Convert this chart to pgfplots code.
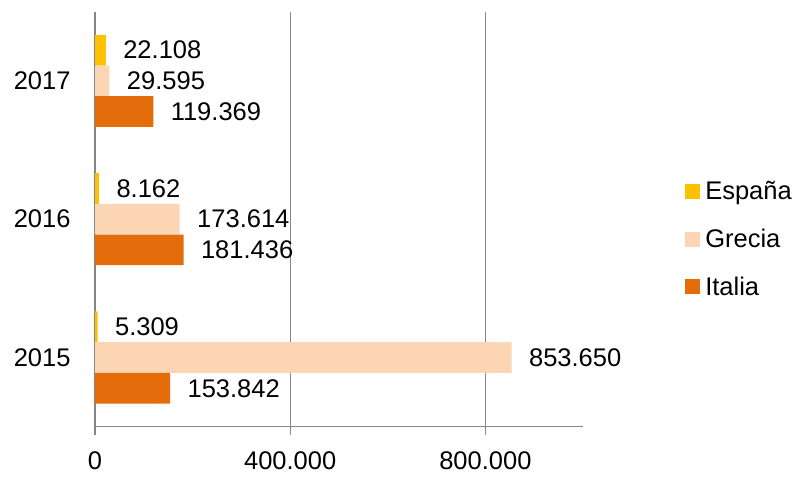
\documentclass[border=0pt]{standalone}
\usepackage{fontspec}
\setmainfont{Liberation Sans}
\usepackage{pgfplots}
\pgfplotsset{compat=1.18}
\definecolor{espana}{HTML}{FFC000}
\definecolor{grecia}{HTML}{FCD5B5}
\definecolor{italia}{HTML}{E46C0A}
\definecolor{axgray}{HTML}{868686}
\newcommand{\bigfont}{\fontsize{25.5bp}{30bp}\selectfont}
\pgfplotsset{mylegend/.style={legend image code/.code={\fill[##1] (0bp,-7.5bp) rectangle (15bp,7.5bp); \path (18bp,0bp);}}}
\begin{document}
\begin{tikzpicture}
\path[use as bounding box] (0,0) rectangle (792bp,477bp);
\begin{axis}[
  at={(95bp,50.3bp)}, anchor=south west,
  scale only axis, width=488bp, height=415bp,
  xbar, bar width=30.7bp,
  xmin=0, xmax=1000000, ymin=-0.5, ymax=2.5,
  axis lines*=left,
  xtick={0,400000,800000},
  scaled x ticks=false,
  ytick={0,1,2}, yticklabels={2015,2016,2017},
  minor ytick={-0.5,0.5,1.5,2.5},
  tick align=outside, major tick length=8bp, minor tick length=8bp,
  ytick style={draw=none},
  xtick style={axgray, line width=1.3bp},
  every minor tick/.append style={axgray, line width=1.3bp},
  xmajorgrids,
  grid style={axgray, line width=1.3bp},
  axis line style={axgray, line width=1.3bp},
  tick label style={font=\bigfont, black},
  xticklabel style={yshift=-13bp},
  yticklabel style={xshift=-13bp},
  /pgf/number format/.cd, 1000 sep={.}, fixed, precision=0, assume math mode=true,
  /pgfplots/.cd,
  nodes near coords,
  nodes near coords style={font=\bigfont, text=black, xshift=14bp},
  clip=false,
  legend cell align=left,
  legend style={at={(1.203,0.452)}, anchor=west, draw=none, fill=none, font=\bigfont, row sep=24bp},
]
\addplot[fill=espana, draw=none, bar shift=30.7bp, mylegend] coordinates {(5309,0) (8162,1) (22108,2)};
\addplot[fill=grecia, draw=none, bar shift=0bp, mylegend] coordinates {(853650,0) (173614,1) (29595,2)};
\addplot[fill=italia, draw=none, bar shift=-30.7bp, mylegend] coordinates {(153842,0) (181436,1) (119369,2)};
\legend{España,Grecia,Italia}
\end{axis}
\end{tikzpicture}
\end{document}
